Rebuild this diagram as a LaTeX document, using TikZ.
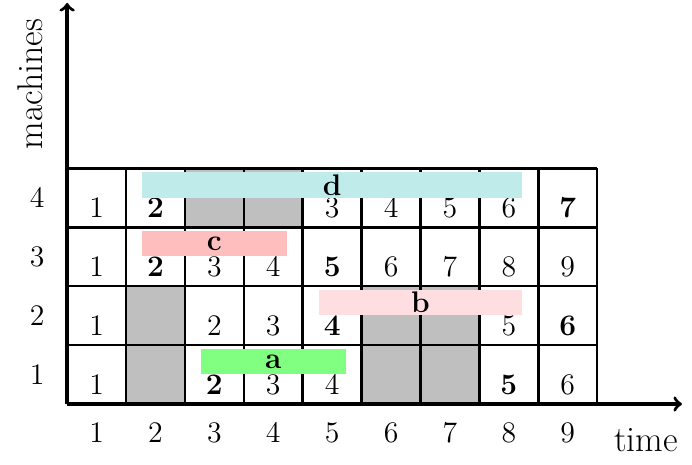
\documentclass[tikz,border=0pt]{standalone}
\usepackage{tikz}
\usetikzlibrary{arrows,positioning}
\tikzstyle{axis} = [ultra thick,->]
\tikzstyle{cellLine} = [very thick]
\tikzstyle{busy} = [fill=gray!50]
\tikzstyle{num} = [font=\Large, inner sep=0pt]
\tikzstyle{lbl} = [font=\Large]
\tikzstyle{axisName} = [font=\LARGE]
\tikzstyle{jobBar} = [rectangle, minimum height=0.43cm, inner sep=0pt, font=\Large\bfseries]
\definecolor{jobA}{RGB}{128,255,128}
\definecolor{jobB}{RGB}{255,222,225}
\definecolor{jobC}{RGB}{255,190,190}
\definecolor{jobD}{RGB}{192,235,235}

\begin{document}
\begin{tikzpicture}
        \useasboundingbox (-1.14,-1.02) rectangle (10.61,6.86);
        % busy slots
        \foreach \c/\r in {3/4,4/4,2/2,6/2,7/2,2/1,6/1,7/1}
          \fill[busy] (\c-1,\r-1) rectangle (\c,\r);
        \draw[cellLine] (0,0) grid (9,4);
        
        \coordinate (o) at (0,0);
        \coordinate (ytop) at (0,6.81);
        \coordinate (xend) at (10.44,0);
        \draw [axis] (o) -- (ytop);
        \draw [axis] (o) -- (xend);
        
        % slot numbers
        \foreach \c/\t in {1/1,2/\textbf{2},5/3,6/4,7/5,8/6,9/\textbf{7}}
          \node (m4-\c) [num] at (\c-0.5,3.33) {\t};
        \foreach \c/\t in {1/1,2/\textbf{2},3/3,4/4,5/\textbf{5},6/6,7/7,8/8,9/9}
          \node (m3-\c) [num] at (\c-0.5,2.33) {\t};
        \foreach \c/\t in {1/1,3/2,4/3,5/\textbf{4},8/5,9/\textbf{6}}
          \node (m2-\c) [num] at (\c-0.5,1.33) {\t};
        \foreach \c/\t in {1/1,3/\textbf{2},4/3,5/4,8/\textbf{5},9/6}
          \node (m1-\c) [num] at (\c-0.5,0.33) {\t};
        
        % jobs
        \node (jd) [jobBar, fill=jobD, minimum width=6.46cm] at (4.5,3.72) {d};
        \node (jc) [jobBar, fill=jobC, minimum width=2.46cm] at (2.5,2.72) {c};
        \node (jb) [jobBar, fill=jobB, minimum width=3.46cm] at (6.0,1.72) {b};
        \node (ja) [jobBar, fill=jobA, minimum width=2.46cm] at (3.5,0.72) {a};
        
        % axis labels
        \foreach \r in {1,...,4}
          \node (y\r) [lbl] at (-0.51,\r-0.5) {\r};
        \foreach \c in {1,...,9}
          \node (x\c) [lbl] at (\c-0.5,-0.49) {\c};
        \node (time) [axisName] at (9.83,-0.61) {time};
        \node (mach) [axisName, rotate=90] at (-0.63,5.43) {machines};
\end{tikzpicture}
\end{document}
